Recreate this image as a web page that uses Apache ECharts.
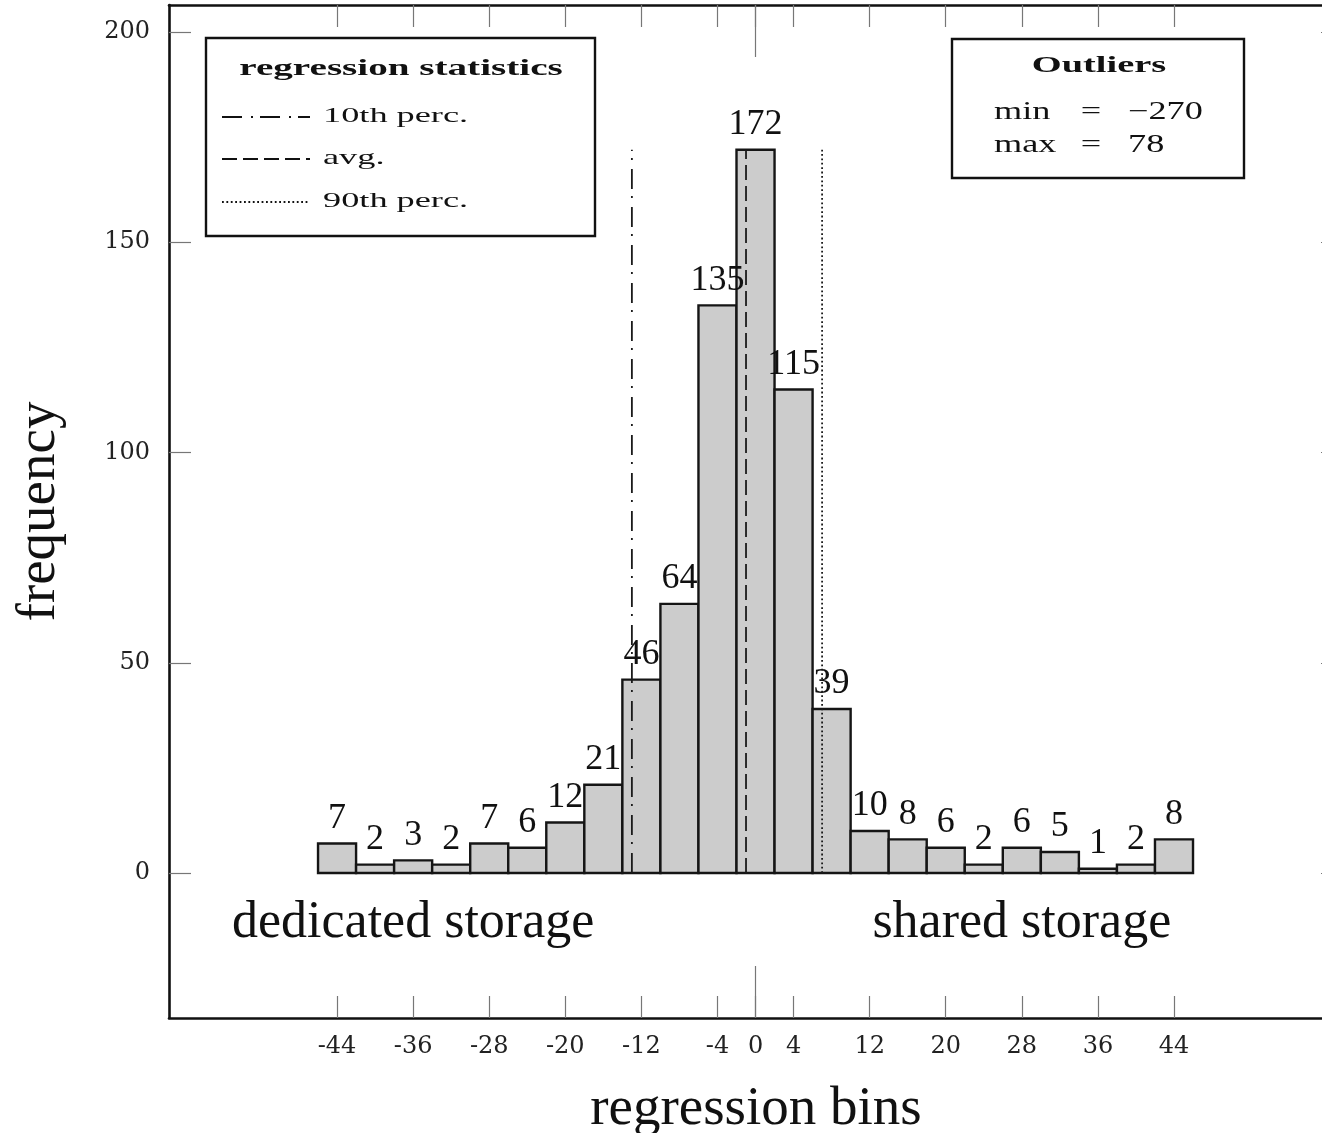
<!DOCTYPE html>
<html>
<head>
<meta charset="utf-8">
<script src="https://cdn.jsdelivr.net/npm/echarts@6/dist/echarts.min.js"></script>
<style>
  html, body { margin: 0; padding: 0; background: #fff; }
  #main { width: 1322px; height: 1133px; }
</style>
</head>
<body>
<div id="main"></div>
<script>
// histogram: bin centres (bins are 4 wide) and their counts
var binCenters = [-44, -40, -36, -32, -28, -24, -20, -16, -12, -8, -4, 0, 4, 8, 12, 16, 20, 24, 28, 32, 36, 40, 44];
var frequencies = [7, 2, 3, 2, 7, 6, 12, 21, 46, 64, 135, 172, 115, 39, 10, 8, 6, 2, 6, 5, 1, 2, 8];
var binWidth = 4;

var xTicks = [-44, -36, -28, -20, -12, -4, 0, 4, 12, 20, 28, 36, 44];
var yTicks = [0, 50, 100, 150, 200];

// regression statistics drawn as vertical lines
var statNames = ['10th perc.', 'avg.', '90th perc.'];
var statValues = [-13, -1, 7];
var statHeight = 172;

var outlierNames = ['min', 'max'];
var outlierValues = ['\u2212270', '78'];

var regionLabels = ['dedicated storage', 'shared storage'];
var regionX = [-36, 28];
var regionY = -12;

var SERIF = '"Liberation Serif", "Times New Roman", serif';
var TICKFONT = '"DejaVu Serif", serif';

var chart = echarts.init(document.getElementById('main'));

var barData = binCenters.map(function (c, i) { return [c, frequencies[i]]; });

function renderBar(params, api) {
  var c = api.value(0), v = api.value(1);
  var p0 = api.coord([c - binWidth / 2, v]);
  var p1 = api.coord([c + binWidth / 2, 0]);
  return {
    type: 'rect',
    shape: { x: p0[0], y: p0[1], width: p1[0] - p0[0], height: p1[1] - p0[1] },
    style: { fill: '#cccccc', stroke: '#151515', lineWidth: 2.4 },
    textContent: {
      style: { text: String(v), font: '36px ' + SERIF, fill: '#111' }
    },
    textConfig: { position: 'top', distance: 6 }
  };
}

var dashTypes = [[20, 9, 2, 7], [15, 6], [1.8, 2.6]];
var statSeries = statValues.map(function (x, i) {
  return {
    name: statNames[i],
    type: 'line',
    data: [[x, 0], [x, statHeight]],
    symbol: 'none',
    z: 6,
    silent: true,
    lineStyle: { color: '#1a1a1a', width: 1.8, type: dashTypes[i] }
  };
});

var tickStyle = { show: true, inside: true, length: 22, customValues: xTicks, lineStyle: { color: '#777', width: 1.2 } };
var frameLine = { show: true, onZero: false, lineStyle: { color: '#111', width: 2.6 } };
var noLine = { show: false, onZero: false };
var zeroTick = { show: true, inside: true, length: 52, customValues: [0], lineStyle: { color: '#777', width: 1.2 } };
var xMin = -61.67, xMax = 61.77, yMin = -34.48, yMax = 206.42;

// legend / outlier boxes (pixel layout)
var legendRowY = [117, 159, 202];
var graphics = [
  { type: 'rect', shape: { x: 206, y: 38, width: 389, height: 198 }, style: { fill: '#fff', stroke: '#111', lineWidth: 2.4 }, z: 100 },
  { type: 'text', x: 401, y: 69, scaleX: 1.63, z: 101,
    style: { text: 'regression statistics', font: 'bold 24px ' + SERIF, fill: '#111', align: 'center', verticalAlign: 'middle', textAlign: 'center', textVerticalAlign: 'middle' } },
  { type: 'rect', shape: { x: 952, y: 39, width: 292, height: 139 }, style: { fill: '#fff', stroke: '#111', lineWidth: 2.4 }, z: 100 },
  { type: 'text', x: 1099, y: 66, scaleX: 1.6, z: 101,
    style: { text: 'Outliers', font: 'bold 24px ' + SERIF, fill: '#111', align: 'center', verticalAlign: 'middle', textAlign: 'center', textVerticalAlign: 'middle' } }
];
statNames.forEach(function (n, i) {
  graphics.push({ type: 'line', z: 101, shape: { x1: 222, y1: legendRowY[i], x2: 310, y2: legendRowY[i] },
    style: { stroke: '#111', lineWidth: 1.8, lineDash: dashTypes[i] } });
  graphics.push({ type: 'text', x: 323, y: legendRowY[i] - 1, scaleX: 1.65, z: 101,
    style: { text: n, font: '22px ' + SERIF, fill: '#111', align: 'left', verticalAlign: 'middle', textAlign: 'left', textVerticalAlign: 'middle' } });
});
var outRowY = [112, 145];
outlierNames.forEach(function (n, i) {
  var st = { font: '25px ' + SERIF, fill: '#111', verticalAlign: 'middle', textVerticalAlign: 'middle' };
  graphics.push({ type: 'text', x: 994, y: outRowY[i], scaleX: 1.45, z: 101,
    style: Object.assign({ text: n, align: 'left', textAlign: 'left' }, st) });
  graphics.push({ type: 'text', x: 1091, y: outRowY[i], scaleX: 1.45, z: 101,
    style: Object.assign({ text: '=', align: 'center', textAlign: 'center' }, st) });
  graphics.push({ type: 'text', x: 1128, y: outRowY[i], scaleX: 1.45, z: 101,
    style: Object.assign({ text: outlierValues[i], align: 'left', textAlign: 'left' }, st) });
});

var option = {
  animation: false,
  backgroundColor: '#fff',
  grid: { left: 169, top: 5, width: 1174, height: 1013, containLabel: false, outerBoundsMode: 'none' },
  xAxis: [
    {
      type: 'value', position: 'bottom', min: xMin, max: xMax,
      axisLine: frameLine, axisTick: tickStyle, splitLine: { show: false },
      axisLabel: { customValues: xTicks, margin: 17, fontFamily: TICKFONT, fontSize: 24, color: '#222', formatter: function (v) { return String(v); } },
      name: 'regression bins', nameLocation: 'middle', nameGap: 64,
      nameTextStyle: { fontFamily: SERIF, fontSize: 55, color: '#111' }
    },
    {
      type: 'value', position: 'top', min: xMin, max: xMax,
      axisLine: frameLine, axisTick: tickStyle, splitLine: { show: false }, axisLabel: { show: false }
    },
    {
      type: 'value', position: 'bottom', min: xMin, max: xMax,
      axisLine: noLine, axisTick: zeroTick, splitLine: { show: false }, axisLabel: { show: false }
    },
    {
      type: 'value', position: 'top', min: xMin, max: xMax,
      axisLine: noLine, axisTick: zeroTick, splitLine: { show: false }, axisLabel: { show: false }
    }
  ],
  yAxis: [
    {
      type: 'value', position: 'left', min: yMin, max: yMax,
      axisLine: frameLine,
      axisTick: { show: true, inside: true, length: 22, customValues: yTicks, lineStyle: { color: '#777', width: 1.2 } },
      axisLabel: { customValues: yTicks, margin: 19, fontFamily: TICKFONT, fontSize: 24, color: '#222' },
      splitLine: { show: false },
      name: 'frequency', nameLocation: 'middle', nameGap: 102,
      nameTextStyle: { fontFamily: SERIF, fontSize: 55, color: '#111' }
    },
    {
      type: 'value', position: 'right', min: yMin, max: yMax,
      axisLine: frameLine,
      axisTick: { show: true, inside: true, length: 22, customValues: yTicks, lineStyle: { color: '#777', width: 1.2 } },
      axisLabel: { show: false }, splitLine: { show: false }
    }
  ],
  series: [
    {
      name: 'frequency', type: 'custom', renderItem: renderBar, data: barData, z: 3, silent: true
    }
  ].concat(statSeries).concat([
    {
      name: 'regions', type: 'scatter', symbolSize: 0, silent: true, z: 4,
      itemStyle: { opacity: 1 },
      data: regionLabels.map(function (t, i) { return [regionX[i], regionY, t]; }),
      label: {
        show: true, position: 'inside', formatter: function (p) { return p.data[2]; },
        fontFamily: SERIF, fontSize: 52, color: '#111', opacity: 1
      }
    }
  ]),
  graphic: graphics
};

chart.setOption(option);
</script>
</body>
</html>
